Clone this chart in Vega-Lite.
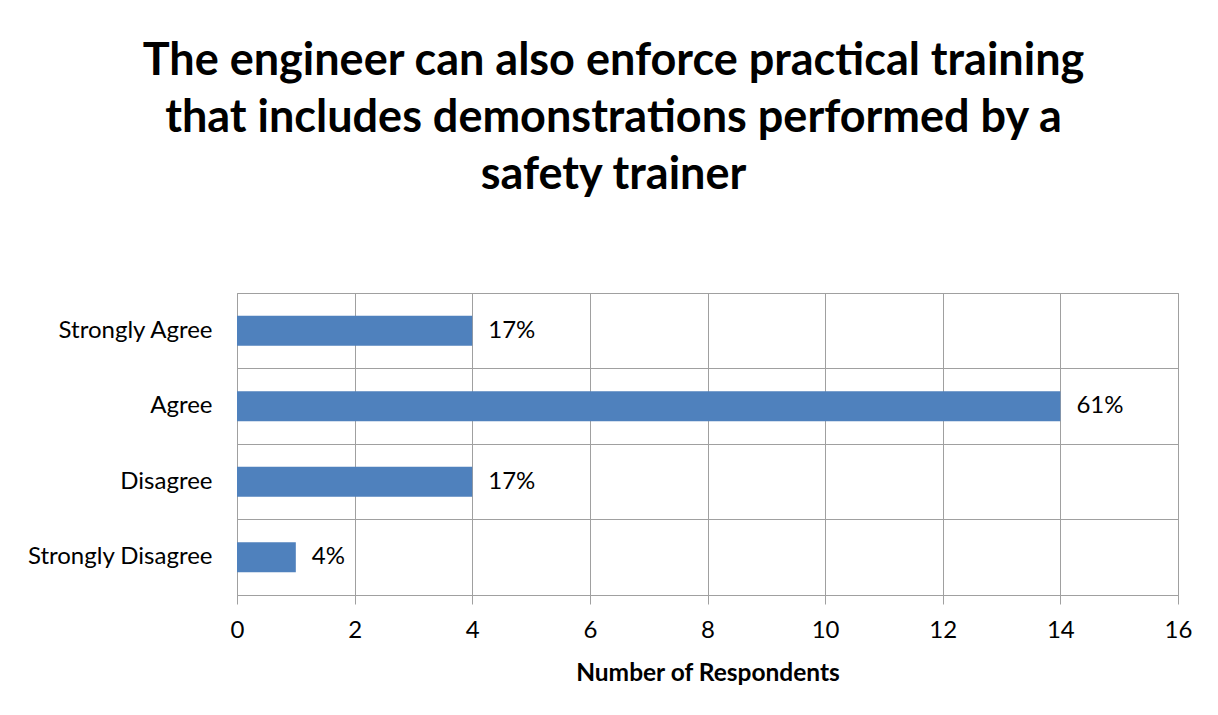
{
  "$schema": "https://vega.github.io/schema/vega-lite/v6.json",
  "width": 941,
  "height": 302,
  "autosize": {"type": "none"},
  "padding": {"left": 237, "top": 293, "right": 40, "bottom": 120},
  "background": "white",
  "title": {
    "text": ["The engineer can also enforce practical training", "that includes demonstrations performed by a", "safety trainer"],
    "font": "Lato",
    "fontWeight": "bold",
    "fontSize": 45,
    "lineHeight": 57,
    "color": "#000000",
    "anchor": "middle",
    "frame": "group",
    "dx": -94,
    "offset": 95
  },
  "data": {
    "values": [
      {"response": "Strongly Agree", "count": 4, "label": "17%"},
      {"response": "Agree", "count": 14, "label": "61%"},
      {"response": "Disagree", "count": 4, "label": "17%"},
      {"response": "Strongly Disagree", "count": 1, "label": "4%"}
    ]
  },
  "encoding": {
    "y": {
      "field": "response",
      "type": "nominal",
      "sort": ["Strongly Agree", "Agree", "Disagree", "Strongly Disagree"],
      "scale": {"paddingInner": 0.6, "paddingOuter": 0.3},
      "axis": {
        "title": null,
        "domain": false,
        "ticks": false,
        "grid": true,
        "bandPosition": -0.75,
        "gridColor": "#A0A0A0",
        "gridWidth": 1,
        "labelFont": "Lato",
        "labelFontSize": 24,
        "labelLimit": 400,
        "labelColor": "#000000",
        "labelPadding": 25
      }
    },
    "x": {
      "field": "count",
      "type": "quantitative",
      "scale": {"domain": [0, 16], "nice": false},
      "axis": {
        "title": "Number of Respondents",
        "titleFont": "Lato",
        "titleFontSize": 24.5,
        "titleFontWeight": "bold",
        "titleColor": "#000000",
        "titlePadding": 19,
        "values": [0, 2, 4, 6, 8, 10, 12, 14, 16],
        "domain": true,
        "domainColor": "#A0A0A0",
        "ticks": true,
        "tickSize": 9,
        "tickColor": "#A0A0A0",
        "grid": true,
        "gridColor": "#A0A0A0",
        "labelFont": "Lato",
        "labelFontSize": 24,
        "labelFlush": false,
        "labelColor": "#000000",
        "labelPadding": 14
      }
    }
  },
  "layer": [
    {"mark": {"type": "bar", "color": "#4F81BD"}},
    {
      "mark": {"type": "text", "align": "left", "dx": 16, "font": "Lato", "fontSize": 24, "color": "#000000"},
      "encoding": {"text": {"field": "label"}}
    }
  ],
  "config": {
    "view": {"stroke": "#A0A0A0", "strokeWidth": 1}
  }
}
